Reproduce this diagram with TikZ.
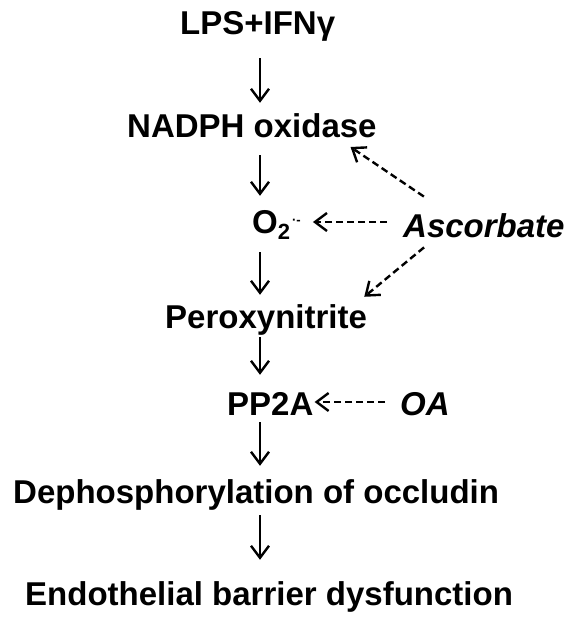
\documentclass[tikz,border=0pt]{standalone}
\usepackage{fontspec}
\setmainfont{Liberation Sans}
\usetikzlibrary{arrows.meta}
\begin{document}
\begin{tikzpicture}[x=1pt,y=-1pt,
  lbl/.style={anchor=base west,inner sep=0pt,text height=24pt,text depth=7pt,font=\fontsize{33}{36}\selectfont\bfseries},
  ilbl/.style={lbl,font=\fontsize{33}{36}\selectfont\bfseries\itshape},
  arr/.style={line width=2.4pt,-{Straight Barb[length=12pt,width=18pt,line width=2.4pt]}},
  darr/.style={arr,dash pattern=on 7pt off 4pt}]
\useasboundingbox (0,0) rectangle (579,623);
\coordinate (ax) at (260,0);
\node[lbl] (lps) at (180,35) {LPS+IFNγ};
\node[lbl] (nadph) at (127,137) {NADPH oxidase};
\node[lbl] (o2) at (252,233) {O\raisebox{-6pt}{\fontsize{22}{22}\selectfont 2}\hspace{2pt}\raisebox{9pt}{\fontsize{13}{13}\selectfont ·-}};
\node[ilbl] (asc) at (403,237) {Ascorbate};
\node[lbl] (perox) at (165,328) {Peroxynitrite};
\node[lbl] (pp2a) at (227,415) {PP2A};
\node[ilbl] (oa) at (400,415) {OA};
\node[lbl] (deph) at (13,503) {Dephosphorylation of occludin};
\node[lbl] (endo) at (25,605) {Endothelial barrier dysfunction};
% main chain
\draw[arr,shorten <=16pt,shorten >=10pt] (lps.south -| ax) -- (nadph.north -| ax);
\draw[arr,shorten <=11pt,shorten >=13pt] (nadph.south -| ax) -- (o2.north -| ax);
\draw[arr,shorten <=12pt,shorten >=9pt] (o2.south -| ax) -- (perox.north -| ax);
\draw[arr,shorten <=2pt,shorten >=16pt] (perox.south -| ax) -- (pp2a.north -| ax);
\draw[arr,shorten <=0pt,shorten >=13pt] (pp2a.south -| ax) -- (deph.north -| ax);
\draw[arr,shorten <=5pt,shorten >=21pt] (deph.south -| ax) -- (endo.north -| ax);
% inhibitors
\draw[darr,shorten <=29pt,shorten >=5pt] ([xshift=-36pt]asc.north) -- ([xshift=94.5pt]nadph.south);
\draw[darr,shorten <=16pt,shorten >=12pt] ([yshift=6.5pt]asc.west) -- ([yshift=6.5pt]asc.west -| o2.east);
\draw[darr,shorten <=5pt,shorten >=11pt] ([xshift=-56pt]asc.south) -- ([xshift=89.7pt]perox.north);
\draw[darr,shorten <=15pt,shorten >=1pt] ([yshift=4.5pt]oa.west) -- ([yshift=4.5pt]oa.west -| pp2a.east);
\end{tikzpicture}
\end{document}
